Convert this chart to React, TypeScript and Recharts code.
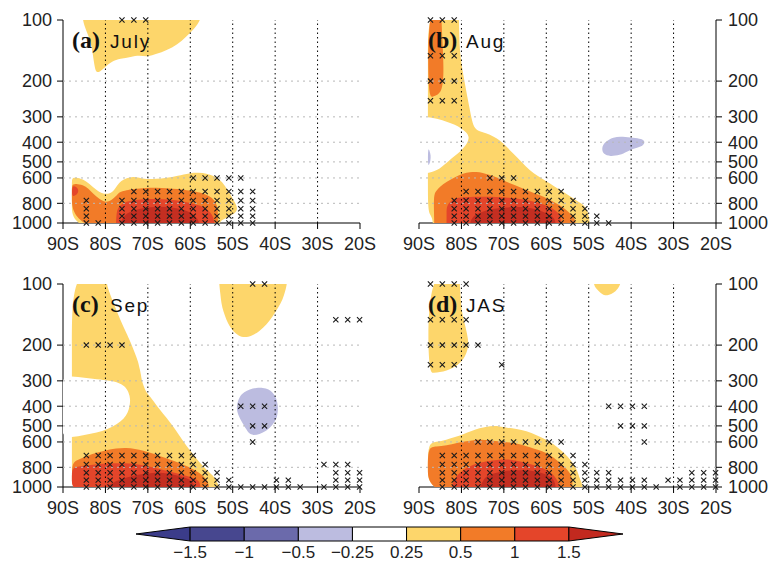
import React from "react";
import { Bar, BarChart, ReferenceLine, Scatter, ScatterChart, XAxis, YAxis } from "recharts";

type Pt = [number, number];
type Row = [number, number[]];

const LAT_TICKS = [-90, -80, -70, -60, -50, -40, -30, -20];
const P_TICKS = [100, 200, 300, 400, 500, 600, 800, 1000];
const GRID_LATS = [-80, -70, -60, -50, -40, -30];
const GRID_P = [200, 300, 400, 500, 600, 800];

const C = {
  lav: "#bcbce0",
  white: "#ffffff",
  yellow: "#fdd66b",
  orange: "#f27b28",
  red: "#e4452a",
  dark: "#c42e21",
};

// ---- (a) July ----
const aYellowTop: Pt[] = [
  [-85.6, 85], [-85.4, 100], [-84.6, 112], [-83.6, 125], [-83.0, 145], [-82.6, 168], [-82.2, 182],
  [-81.3, 180], [-80.0, 170], [-78.5, 160], [-76.5, 155], [-74, 152], [-72, 149], [-70, 152],
  [-68, 147], [-65.6, 141], [-63, 132], [-61, 121], [-59, 110], [-57.5, 100], [-57, 85],
];
const aYellow: Pt[] = [
  [-87.9, 1150], [-87.9, 800], [-87.9, 650], [-87.9, 610], [-87.6, 598], [-87, 597], [-85.3, 608],
  [-83.8, 640], [-82.1, 690], [-80.6, 718], [-79.5, 720], [-78.2, 703], [-77.2, 650], [-76.3, 618],
  [-75, 600], [-73.5, 590], [-72, 597], [-70.4, 610], [-68, 606], [-65.6, 600], [-63, 585],
  [-60.1, 567], [-58, 565], [-56.2, 570], [-54.5, 585], [-53.1, 610], [-51.8, 655], [-50.7, 715],
  [-49.5, 790], [-48.8, 850], [-49.3, 885], [-49.9, 905], [-51, 935], [-52.3, 960], [-53.2, 990],
  [-53.4, 1150],
];
const aOrange: Pt[] = [
  [-87.9, 1150], [-87.9, 700], [-87.9, 655], [-87.6, 645], [-87, 640], [-85.3, 650], [-84, 675],
  [-82.9, 718], [-81.5, 760], [-80.2, 790], [-79, 782], [-78.2, 760], [-77.2, 725], [-76.6, 703],
  [-75, 688], [-73.5, 680], [-70.4, 670], [-68, 670], [-65.6, 673], [-63, 680], [-60.9, 690],
  [-58.5, 702], [-57, 715], [-55.5, 735], [-54.3, 770], [-53.7, 820], [-53.5, 866], [-53.5, 950],
  [-53.5, 1150],
];
const aRedEdge: Pt[] = [
  [-87.9, 655], [-87, 660], [-86.3, 685], [-86.5, 715], [-87.2, 735], [-87.9, 742],
];
const aRed: Pt[] = [
  [-77.6, 1150], [-77.5, 1000], [-77.4, 900], [-77.1, 850], [-76.6, 820], [-75.5, 790], [-73.5, 770],
  [-71, 762], [-68.8, 760], [-66.5, 763], [-64.1, 770], [-61.8, 782], [-59.4, 800], [-57.6, 822],
  [-56.2, 850], [-55.2, 890], [-54.6, 934], [-54.3, 980], [-54.2, 1150],
];
const aDark: Pt[] = [
  [-76.8, 1150], [-76.6, 1000], [-75.8, 940], [-75.1, 900], [-73.5, 868], [-71.9, 850], [-69.5, 836],
  [-67.2, 830], [-64.8, 835], [-62.5, 850], [-60.8, 872], [-59.4, 900], [-58.4, 945], [-57.8, 1000],
  [-57.8, 1150],
];
const crossA: Row[] = [
  [100, [-76.1, -73.3, -70.5]],
  [600, [-59.3, -56.5, -53.7, -50.9, -48.1]],
  [700, [-73.3, -70.5, -67.7, -64.9, -62.1, -59.3, -56.5, -53.7, -50.9, -48.1, -45.3]],
  [775, [-84.5, -76.1, -73.3, -70.5, -67.7, -64.9, -62.1, -59.3, -56.5, -53.7, -50.9, -48.1, -45.3]],
  [850, [-84.5, -76.1, -73.3, -70.5, -67.7, -64.9, -62.1, -59.3, -56.5, -53.7, -50.9, -48.1, -45.3]],
  [925, [-84.5, -76.1, -73.3, -70.5, -67.7, -64.9, -62.1, -59.3, -56.5, -53.7, -50.9, -48.1, -45.3]],
  [1000, [-84.5, -81.7, -76.1, -73.3, -70.5, -67.7, -64.9, -62.1, -59.3, -56.5, -53.7, -50.9, -48.1, -45.3]],
];

// ---- (b) Aug ----
const bYellow: Pt[] = [
  [-87.9, 85], [-80.6, 85], [-80.6, 100], [-80.5, 120], [-80.4, 141], [-79.9, 170], [-79.2, 205],
  [-78.6, 240], [-78, 278], [-77.5, 315], [-76.9, 343], [-75.5, 355], [-74.1, 362], [-72.5, 374],
  [-71, 390], [-69.4, 420], [-67.8, 455], [-65.8, 500], [-63.9, 550], [-62, 588], [-59.9, 625],
  [-58, 662], [-56, 703], [-54.4, 740], [-52.9, 773], [-51.8, 800], [-50.9, 830], [-50.3, 870],
  [-50.1, 910], [-49.8, 960], [-49.7, 1150], [-86.7, 1150], [-86.7, 1000], [-86.9, 950],
  [-87.3, 910], [-87.9, 870], [-87.9, 600], [-87.9, 300], [-87.9, 150],
];
const bWhite: Pt[] = [
  [-91, 300], [-87.9, 300], [-85.5, 307], [-83.5, 317], [-81.5, 328], [-80, 342], [-78.8, 358],
  [-78.2, 376], [-78.4, 392], [-78.7, 406], [-79.5, 425], [-80.4, 447], [-81.6, 468], [-82.8, 490],
  [-84, 515], [-85.1, 540], [-86.5, 556], [-87.9, 570], [-91, 570],
];
const bLavEdge: Pt[] = [
  [-87.9, 425], [-87.5, 440], [-87.2, 465], [-87.3, 495], [-87.6, 515], [-87.9, 525],
];
const bOrangeTop: Pt[] = [
  [-87.9, 85], [-84.8, 85], [-84.7, 100], [-84.5, 125], [-84.3, 150], [-84.2, 183], [-84.4, 205],
  [-84.7, 221], [-85.3, 230], [-85.9, 235], [-86.8, 239], [-87.9, 240],
];
const bOrange: Pt[] = [
  [-86.4, 1150], [-86.4, 1000], [-86.5, 850], [-86.5, 718], [-85.8, 690], [-85, 660], [-83.5, 627],
  [-81.5, 595], [-79.6, 570], [-78, 562], [-76.5, 560], [-75, 565], [-73.3, 580], [-71.3, 600],
  [-69.4, 627], [-67.5, 650], [-65.5, 677], [-63.5, 703], [-61.5, 730], [-59.5, 763], [-57.6, 800],
  [-56.3, 833], [-55.2, 866], [-54.3, 900], [-53.6, 934], [-53.1, 970], [-52.9, 1150],
];
const bRed: Pt[] = [
  [-83.6, 1150], [-83.5, 1000], [-83.5, 900], [-83.5, 830], [-82.8, 790], [-82, 760], [-80, 748],
  [-78, 744], [-75, 742], [-71.7, 744], [-69, 750], [-66.2, 760], [-63.8, 777], [-61.5, 800],
  [-59.8, 822], [-58.4, 850], [-57.5, 880], [-56.8, 910], [-56.5, 960], [-56.4, 1150],
];
const bDark: Pt[] = [
  [-78, 1150], [-78, 1000], [-77.6, 950], [-76.5, 900], [-74.5, 870], [-72.5, 850], [-69.5, 838],
  [-66.2, 830], [-64, 842], [-61.5, 866], [-59.8, 895], [-58.4, 934], [-57.8, 970], [-57.6, 1150],
];
const bLav: Pt[] = [
  [-47, 430], [-46.3, 400], [-44.2, 376], [-42, 375], [-39.5, 380], [-37.5, 385], [-36.7, 397],
  [-37.1, 415], [-38.5, 425], [-39.5, 430], [-41, 445], [-42.6, 463], [-45, 470], [-46.5, 460],
];
const crossB: Row[] = [
  [100, [-87.3, -84.5, -81.7]],
  [150, [-87.3, -84.5, -81.7]],
  [200, [-87.3, -84.5, -81.7]],
  [250, [-87.3, -84.5, -81.7]],
  [600, [-73.3, -70.5, -67.7]],
  [700, [-78.9, -76.1, -73.3, -70.5, -67.7, -64.9, -62.1, -59.3, -56.5]],
  [775, [-81.7, -78.9, -76.1, -73.3, -70.5, -67.7, -64.9, -62.1, -59.3, -56.5, -53.7]],
  [850, [-81.7, -78.9, -76.1, -73.3, -70.5, -67.7, -64.9, -62.1, -59.3, -56.5, -53.7, -50.9]],
  [925, [-81.7, -78.9, -76.1, -73.3, -70.5, -67.7, -64.9, -62.1, -59.3, -56.5, -53.7, -50.9, -48.1]],
  [1000, [-81.7, -78.9, -76.1, -73.3, -70.5, -67.7, -64.9, -62.1, -59.3, -56.5, -53.7, -50.9, -48.1, -45.3]],
];

// ---- (c) Sep ----
const cYellow: Pt[] = [
  [-87.9, 85], [-79.8, 85], [-79.8, 100], [-78.9, 112], [-77.8, 129], [-76.5, 150], [-75.1, 174],
  [-74, 195], [-73.1, 218], [-72.3, 240], [-71.9, 264], [-71.6, 280], [-71.5, 295], [-71, 318],
  [-70.4, 343], [-69, 368], [-67.2, 416], [-65.6, 455], [-64.1, 500], [-62.5, 560], [-60.9, 628],
  [-59.3, 690], [-57.8, 760], [-56.2, 820], [-54.6, 880], [-53.8, 935], [-53.1, 1000], [-53, 1150],
  [-87.9, 1150], [-87.9, 800], [-87.9, 500], [-87.9, 200],
];
const cWhite: Pt[] = [
  [-91, 285], [-87.9, 285], [-85, 290], [-82, 295], [-79, 300], [-77, 305], [-75.5, 318], [-74.5, 340],
  [-74.1, 370], [-74.3, 400], [-74.7, 430], [-75.6, 460], [-77.2, 490], [-79.5, 520], [-82, 540],
  [-85, 555], [-87.9, 570], [-91, 570],
];
const cOrange: Pt[] = [
  [-87.9, 1150], [-87.9, 900], [-87.9, 760], [-86.5, 735], [-84.5, 704], [-82, 678], [-79.8, 658],
  [-77.5, 645], [-75.1, 641], [-73, 648], [-71.1, 663], [-69, 682], [-67.2, 704], [-64.8, 732],
  [-62.5, 760], [-60.5, 795], [-58.6, 833], [-57.3, 870], [-56.2, 916], [-55.6, 960], [-55.4, 1150],
];
const cRed: Pt[] = [
  [-87.9, 1150], [-87.9, 900], [-87.9, 808], [-86.5, 795], [-85.3, 787], [-83.5, 778], [-81.4, 770],
  [-78.5, 764], [-75.1, 763], [-72.7, 772], [-70.4, 787], [-68, 808], [-65.6, 833], [-63.2, 856],
  [-60.9, 880], [-59.4, 900], [-58.2, 924], [-57.6, 960], [-57.4, 1150],
];
const cDark: Pt[] = [
  [-80, 1150], [-79.8, 1000], [-78.9, 970], [-78.2, 950], [-76, 910], [-73.5, 880], [-71, 862],
  [-68.8, 850], [-66.5, 852], [-64.1, 866], [-62, 890], [-60.1, 916], [-59, 960], [-58.6, 1150],
];
const cYellowTop: Pt[] = [
  [-53.3, 85], [-53.2, 100], [-52.9, 112], [-52.7, 124], [-52.2, 137], [-51.5, 150], [-50.8, 161],
  [-49.9, 171], [-48.6, 180], [-47.2, 184], [-45.5, 180], [-43.7, 171], [-42, 158], [-40.5, 144],
  [-39.2, 130], [-38.2, 119], [-37.6, 108], [-37.2, 100], [-37, 85],
];
const cLav: Pt[] = [
  [-49.2, 400], [-48.4, 357], [-47.3, 340], [-46, 330], [-44.5, 325], [-42.9, 324], [-41.5, 330],
  [-40.5, 343], [-39.7, 365], [-39.3, 400], [-39.4, 435], [-39.7, 465], [-40.8, 500], [-42.1, 530],
  [-43.7, 550], [-45.2, 557], [-46.2, 545], [-46.8, 520], [-47.8, 480], [-48.8, 440],
];
const crossC: Row[] = [
  [100, [-45.3, -42.5]],
  [150, [-25.7, -22.9, -20.1]],
  [200, [-84.5, -81.7, -78.9, -76.1]],
  [400, [-48.1, -45.3, -42.5]],
  [500, [-45.3, -42.5]],
  [600, [-45.3]],
  [700, [-84.5, -81.7, -78.9, -76.1, -73.3, -70.5, -67.7, -64.9, -62.1, -59.3]],
  [775, [-84.5, -81.7, -78.9, -76.1, -73.3, -70.5, -67.7, -64.9, -62.1, -59.3, -56.5, -28.5, -25.7, -22.9]],
  [850, [-84.5, -81.7, -78.9, -76.1, -73.3, -70.5, -67.7, -64.9, -62.1, -59.3, -56.5, -53.7, -25.7, -22.9, -20.1]],
  [925, [-84.5, -81.7, -78.9, -76.1, -73.3, -70.5, -67.7, -64.9, -62.1, -59.3, -56.5, -53.7, -50.9, -39.7, -36.9, -25.7, -22.9, -20.1]],
  [1000, [-84.5, -81.7, -78.9, -76.1, -73.3, -70.5, -67.7, -64.9, -62.1, -59.3, -56.5, -53.7, -50.9, -48.1, -45.3, -42.5, -39.7, -36.9, -34.1, -28.5, -25.7, -22.9, -20.1]],
];

// ---- (d) JAS ----
const dYellowTop: Pt[] = [
  [-87.9, 85], [-80.4, 85], [-80.4, 100], [-80.2, 115], [-80, 134], [-79.4, 152], [-78.7, 174],
  [-78.4, 190], [-78.4, 203], [-78.8, 220], [-79.6, 236], [-80.7, 249], [-82, 259], [-83.5, 267],
  [-85.1, 272], [-86.5, 274], [-87.9, 274],
];
const dYellowCap: Pt[] = [
  [-49.2, 85], [-48.9, 100], [-48.3, 105], [-47.7, 108], [-46.9, 112], [-46.2, 114], [-45.2, 113],
  [-44.2, 111], [-43.2, 106], [-42.4, 100], [-42.2, 85],
];
const dYellow: Pt[] = [
  [-87.9, 1150], [-87.9, 800], [-87.9, 610], [-86, 600], [-83.5, 585], [-81.5, 568], [-79.6, 550],
  [-77.6, 530], [-75.7, 512], [-74, 504], [-72.5, 500], [-71, 502], [-69.4, 510], [-67, 518],
  [-64.7, 530], [-62.3, 555], [-59.9, 585], [-58.3, 615], [-56.8, 653], [-55.5, 690], [-54.4, 730],
  [-53.6, 770], [-52.9, 815], [-52.4, 865], [-52.1, 916], [-51.5, 960], [-51.1, 1150],
];
const dOrange: Pt[] = [
  [-87.9, 1150], [-87.9, 800], [-87.9, 636], [-86, 632], [-83.5, 625], [-81, 607], [-78.8, 594],
  [-77, 587], [-75.7, 585], [-73.5, 588], [-71.7, 594], [-67.8, 605], [-65.8, 618], [-63.9, 636],
  [-61.8, 657], [-59.9, 680], [-58.2, 718], [-56.8, 760], [-55.5, 805], [-54.4, 850], [-53.8, 920],
  [-53.6, 1150],
];
const dRed: Pt[] = [
  [-82.5, 1150], [-82.4, 1000], [-81.9, 940], [-81.2, 883], [-79.8, 830], [-78, 787], [-76, 762],
  [-74.1, 745], [-71.5, 735], [-69.4, 730], [-67, 740], [-64.7, 760], [-62.6, 785], [-60.7, 808],
  [-59.4, 835], [-58.4, 866], [-57.5, 920], [-56.9, 970], [-56.8, 1150],
];
const dDark: Pt[] = [
  [-75.8, 1150], [-75.7, 1000], [-74.9, 930], [-74.1, 883], [-72.2, 855], [-70.2, 833], [-67.5, 826],
  [-64.7, 825], [-62.3, 840], [-59.9, 866], [-58.4, 910], [-57.8, 960], [-57.6, 1150],
];
const crossD: Row[] = [
  [100, [-87.3, -84.5, -81.7, -78.9]],
  [150, [-87.3, -84.5, -81.7, -78.9]],
  [200, [-87.3, -84.5, -81.7, -78.9, -76.1]],
  [250, [-87.3, -84.5, -81.7, -70.5]],
  [400, [-45.3, -42.5, -39.7, -36.9]],
  [500, [-42.5, -39.7, -36.9]],
  [600, [-76.1, -73.3, -70.5, -67.7, -64.9, -62.1, -59.3, -56.5, -36.9]],
  [700, [-84.5, -81.7, -78.9, -76.1, -73.3, -70.5, -67.7, -64.9, -62.1, -59.3, -56.5, -53.7]],
  [775, [-84.5, -81.7, -78.9, -76.1, -73.3, -70.5, -67.7, -64.9, -62.1, -59.3, -56.5, -53.7, -50.9]],
  [850, [-84.5, -81.7, -78.9, -76.1, -73.3, -70.5, -67.7, -64.9, -62.1, -59.3, -56.5, -53.7, -50.9, -48.1, -45.3, -25.7, -22.9, -20.1]],
  [925, [-84.5, -81.7, -78.9, -76.1, -73.3, -70.5, -67.7, -64.9, -62.1, -59.3, -56.5, -53.7, -50.9, -48.1, -45.3, -42.5, -39.7, -36.9, -31.3, -28.5, -25.7, -22.9, -20.1]],
  [1000, [-84.5, -81.7, -78.9, -76.1, -73.3, -70.5, -67.7, -64.9, -62.1, -59.3, -56.5, -53.7, -50.9, -48.1, -45.3, -42.5, -39.7, -36.9, -34.1, -28.5, -25.7, -22.9, -20.1]],
];

// colour bar
const CB_COLORS = ["#3b3c8a", "#47478f", "#6b6aab", "#bcbce0", "#ffffff", "#fdd66b", "#f27b28", "#e4452a", "#c2291f"];
const CB_LABELS = ["\u22121.5", "\u22121", "\u22120.5", "\u22120.25", "0.25", "0.5", "1", "1.5"];
const CB_TICKS = [1, 2, 3, 4, 5, 6, 7, 8];

const FONT = "'Liberation Sans', Arial, Helvetica, sans-serif";
const TICK = { fontSize: 18, fill: "#222", fontFamily: FONT };
const CB_TICK = { fontSize: 17, fill: "#222", fontFamily: FONT };

const toPts = (arr: Pt[]) => arr.map(([x, y]) => ({ x, y }));
const toCross = (rows: Row[]) => rows.flatMap(([p, lats]) => lats.map((x) => ({ x, y: p })));
const latLabel = (v: number) => `${-v}S`;

const NoDot = () => <g />;

const Cross = (props: any) => {
  const { cx, cy } = props;
  const s = 2.6;
  return (
    <path
      d={`M${cx - s},${cy - s}L${cx + s},${cy + s}M${cx - s},${cy + s}L${cx + s},${cy - s}`}
      stroke="#1a1a1a"
      strokeWidth={1.1}
      fill="none"
    />
  );
};

type PanelDef = {
  tag: string;
  name: string;
  side: "left" | "right";
  x: number;
  y: number;
  layers: [Pt[], string][];
  crosses: Row[];
};

// x, y = top-left corner of each panel's chart box
const PANELS: PanelDef[] = [
  {
    tag: "(a)", name: "July", side: "left", x: 0, y: 0,
    layers: [[aYellowTop, C.yellow], [aYellow, C.yellow], [aOrange, C.orange], [aRedEdge, C.red], [aRed, C.red], [aDark, C.dark]],
    crosses: crossA,
  },
  {
    tag: "(b)", name: "Aug", side: "right", x: 394, y: 0,
    layers: [[bYellow, C.yellow], [bWhite, C.white], [bLavEdge, C.lav], [bOrangeTop, C.orange], [bOrange, C.orange], [bRed, C.red], [bDark, C.dark], [bLav, C.lav]],
    crosses: crossB,
  },
  {
    tag: "(c)", name: "Sep", side: "left", x: 0, y: 264,
    layers: [[cYellow, C.yellow], [cWhite, C.white], [cOrange, C.orange], [cRed, C.red], [cDark, C.dark], [cYellowTop, C.yellow], [cLav, C.lav]],
    crosses: crossC,
  },
  {
    tag: "(d)", name: "JAS", side: "right", x: 394, y: 264,
    layers: [[dYellowTop, C.yellow], [dYellowCap, C.yellow], [dYellow, C.yellow], [dOrange, C.orange], [dRed, C.red], [dDark, C.dark]],
    crosses: crossD,
  },
];

function Panel({ p }: { p: PanelDef }) {
  const right = p.side === "right";
  const pad = 25;
  const width = right ? pad + 297 + 55 : 63 + 297 + pad;
  const plotLeft = right ? pad : 63;
  return (
    <div style={{ position: "absolute", left: p.x, top: p.y }}>
      <ScatterChart
        width={width}
        height={268}
        margin={{ top: 20, right: right ? 0 : pad, bottom: 0, left: right ? pad : 0 }}
      >
        <XAxis
          xAxisId="b"
          dataKey="x"
          type="number"
          domain={[-90, -20]}
          ticks={LAT_TICKS}
          interval={0}
          tickFormatter={latLabel}
          tick={TICK}
          tickSize={6}
          tickMargin={8}
          height={45}
          axisLine={{ stroke: "#000" }}
          tickLine={{ stroke: "#000" }}
        />
        <XAxis
          xAxisId="t"
          orientation="top"
          dataKey="x"
          type="number"
          domain={[-90, -20]}
          allowDataOverflow
          tick={false}
          tickLine={false}
          height={0}
          axisLine={{ stroke: "#000" }}
        />
        <YAxis
          yAxisId="m"
          orientation={p.side}
          dataKey="y"
          type="number"
          scale="log"
          domain={[100, 1000]}
          reversed
          ticks={P_TICKS}
          interval={0}
          tick={TICK}
          tickSize={6}
          tickMargin={right ? 6 : 5}
          width={right ? 55 : 63}
          axisLine={{ stroke: "#000" }}
          tickLine={{ stroke: "#000" }}
        />
        <YAxis
          yAxisId="o"
          orientation={right ? "left" : "right"}
          dataKey="y"
          type="number"
          scale="log"
          domain={[100, 1000]}
          reversed
          allowDataOverflow
          tick={false}
          tickLine={false}
          width={0}
          axisLine={{ stroke: "#000" }}
        />
        {p.layers.map(([pts, color], i) => (
          <Scatter
            key={`poly-${i}`}
            xAxisId="t"
            yAxisId="o"
            data={toPts(pts)}
            fill={color}
            line={{ fill: color, stroke: "none" }}
            lineType="joint"
            lineJointType="basisClosed"
            shape={NoDot}
            isAnimationActive={false}
          />
        ))}
        {GRID_P.map((v) => (
          <ReferenceLine key={`h${v}`} xAxisId="b" yAxisId="m" y={v} stroke="#b8b8b8" strokeDasharray="2 4" zIndex={700} />
        ))}
        {GRID_LATS.map((v) => (
          <ReferenceLine key={`v${v}`} xAxisId="b" yAxisId="m" x={v} stroke="#000" strokeDasharray="1.5 3" zIndex={700} />
        ))}
        <Scatter
          xAxisId="b"
          yAxisId="m"
          data={toCross(p.crosses)}
          fill="#1a1a1a"
          shape={Cross}
          isAnimationActive={false}
        />
      </ScatterChart>
      <svg
        width={width}
        height={268}
        style={{ position: "absolute", left: 0, top: 0, pointerEvents: "none" }}
      >
        <text
          x={plotLeft + 9}
          y={20 + 27.5}
          fontFamily="'Liberation Serif', 'Times New Roman', serif"
          fontWeight="bold"
          fontSize={24}
          fill="#111"
        >
          {p.tag}
        </text>
        <text x={plotLeft + 47} y={20 + 27.5} fontFamily={FONT} fontSize={19} letterSpacing={1.8} fill="#111">
          {p.name}
        </text>
      </svg>
    </div>
  );
}

const cbRow = [Object.fromEntries([["name", "cb"], ...CB_COLORS.map((_, i) => [`s${i}`, 1])])];

const LeftTip = (props: any) => {
  const { x, y, width, height, fill } = props;
  return (
    <polygon
      points={`${x + width},${y} ${x},${y + height / 2} ${x + width},${y + height}`}
      fill={fill}
      stroke="#000"
      strokeWidth={1}
    />
  );
};
const RightTip = (props: any) => {
  const { x, y, width, height, fill } = props;
  return (
    <polygon
      points={`${x},${y} ${x + width},${y + height / 2} ${x},${y + height}`}
      fill={fill}
      stroke="#000"
      strokeWidth={1}
    />
  );
};

function ColorBar() {
  return (
    <div style={{ position: "absolute", left: 0, top: 523 }}>
      <BarChart
        width={771}
        height={40}
        layout="vertical"
        data={cbRow}
        margin={{ top: 0, right: 148, bottom: 0, left: 136 }}
      >
        <XAxis
          type="number"
          domain={[0, 9]}
          ticks={CB_TICKS}
          interval={0}
          tickFormatter={(v: number) => CB_LABELS[v - 1]}
          tick={CB_TICK}
          axisLine={false}
          tickLine={false}
          tickSize={0}
          tickMargin={1}
          height={18}
        />
        <YAxis type="category" dataKey="name" hide />
        {CB_COLORS.map((color, i) => (
          <Bar
            key={i}
            dataKey={`s${i}`}
            stackId="cb"
            fill={color}
            stroke="#000"
            strokeWidth={1}
            barSize={14}
            shape={i === 0 ? LeftTip : i === CB_COLORS.length - 1 ? RightTip : undefined}
            isAnimationActive={false}
          />
        ))}
      </BarChart>
    </div>
  );
}

export default function App() {
  return (
    <div
      style={{
        position: "absolute",
        left: 0,
        top: 0,
        width: 771,
        height: 563,
        background: "#fff",
        overflow: "hidden",
      }}
    >
      {PANELS.map((p) => (
        <Panel key={p.tag} p={p} />
      ))}
      <ColorBar />
    </div>
  );
}
